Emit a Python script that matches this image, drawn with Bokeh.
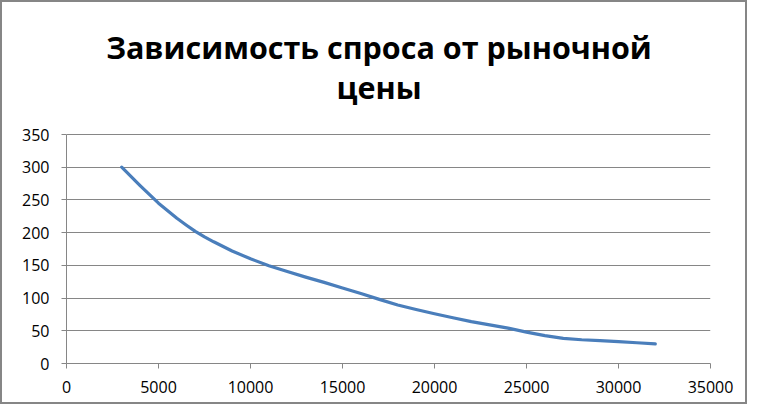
from bokeh.plotting import figure
from bokeh.models import Range1d, SingleIntervalTicker, NumeralTickFormatter, Label
from bokeh.embed import file_html
from bokeh.resources import INLINE

title_line1 = "Зависимость спроса от рыночной"
title_line2 = "цены"

price = [3000, 4000, 5000, 6000, 6500, 7000, 7500, 8000, 9000, 10000, 11000, 12000,
         13000, 14000, 15000, 16000, 17000, 18000, 19000, 20000, 21000, 22000,
         23000, 24000, 25000, 26000, 27000, 28000, 29000, 30000, 31000, 32000]
demand = [300, 272, 245, 222, 211.8, 202, 193.5, 186, 172, 160, 149.5, 140.5,
          132, 124, 115.5, 107, 98, 89.5, 82.5, 76, 70, 64,
          59, 54, 48, 42.5, 38.5, 36.3, 35, 33.4, 31.7, 30]

x_min, x_max = 0, 35000
y_min, y_max = 0, 350
x_ticks_interval = 5000
y_ticks_interval = 50

GRAY = "#868686"
FONT = "Open Sans"

PLOT_H = 229      # pixel height of the 0..350 value band
FRAME_H = 361     # frame also holds the title band above it

p = figure(output_backend="svg", toolbar_location=None,
           frame_width=644, frame_height=FRAME_H,
           min_border_left=64, min_border_right=35,
           min_border_top=0, min_border_bottom=39,
           x_range=Range1d(x_min, x_max),
           y_range=Range1d(y_min, y_max * FRAME_H / PLOT_H))

p.title.visible = False
for txt, ypos in ((title_line1, 317), (title_line2, 277)):
    p.add_layout(Label(x=312.5, y=ypos, x_units="screen", y_units="screen",
                       text=txt, text_align="center", text_baseline="middle",
                       text_font=FONT, text_font_style="bold",
                       text_font_size="30.5px", text_color="black"))

p.outline_line_color = None
p.background_fill_color = "white"
p.border_fill_color = "white"
p.xgrid.visible = False
p.ygrid.grid_line_color = GRAY
p.ygrid.grid_line_width = 1
p.ygrid.bounds = (y_min, y_max)

p.xaxis.ticker = SingleIntervalTicker(interval=x_ticks_interval)
p.yaxis.ticker = SingleIntervalTicker(interval=y_ticks_interval)
p.yaxis.bounds = (y_min, y_max)
p.xaxis.formatter = NumeralTickFormatter(format="0")
p.yaxis.formatter = NumeralTickFormatter(format="0")

for ax in (p.xaxis, p.yaxis):
    ax.axis_line_color = GRAY
    ax.major_tick_line_color = GRAY
    ax.major_tick_in = 0
    ax.major_tick_out = 5
    ax.minor_tick_line_color = None
    ax.major_label_text_font = FONT
    ax.major_label_text_font_size = "16px"
    ax.major_label_text_color = "black"

p.xaxis.major_label_standoff = 12
p.yaxis.major_label_standoff = 12

p.line(price, demand, line_color="#4a7ebb", line_width=3.2, line_join="round", line_cap="round")

p.styles = {"border": "2px solid #868686", "box-sizing": "border-box"}

open("out.html", "w").write(file_html(p, INLINE))
